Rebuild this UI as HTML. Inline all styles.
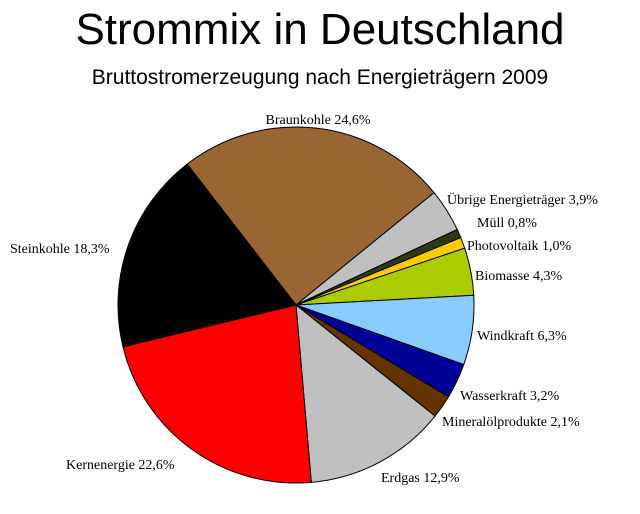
<!DOCTYPE html>
<html><head><meta charset="utf-8">
<style>
html,body{margin:0;padding:0;background:#fff;}
body{width:640px;height:514px;overflow:hidden;position:relative;}
svg{position:absolute;left:0;top:0;}
</style></head>
<body>
<svg width="640" height="514">
  <text x="320" y="44" text-anchor="middle" font-family="Liberation Sans, sans-serif" font-size="44">Strommix in Deutschland</text>
  <text x="320" y="84" text-anchor="middle" font-family="Liberation Sans, sans-serif" font-size="21">Bruttostromerzeugung nach Energieträgern 2009</text>
  <g id="slices"></g>
  <g id="labels" font-family="Liberation Serif, serif" font-size="14"></g>
</svg>
<script>
const categories = ["Braunkohle","Übrige Energieträger","Müll","Photovoltaik","Biomasse","Windkraft","Wasserkraft","Mineralölprodukte","Erdgas","Kernenergie","Steinkohle"];
const values = [24.6,3.9,0.8,1.0,4.3,6.3,3.2,2.1,12.9,22.6,18.3];
const valueLabels = ["24,6%","3,9%","0,8%","1,0%","4,3%","6,3%","3,2%","2,1%","12,9%","22,6%","18,3%"];
const colors = ["#996633","#c0c0c0","#2b3a14","#ffcc00","#aacc00","#88ccff","#000099","#663300","#c0c0c0","#ff0000","#000000"];
const labelPos = [[318,124,"middle"],[447,204,"start"],[477,227,"start"],[467,250,"start"],[475,280,"start"],[477,340,"start"],[460,400,"start"],[442,426,"start"],[381,482,"start"],[66,469,"start"],[10,253,"start"]];
const cx=296, cy=305, r=178, startDeg=-127.7;
const ns="http://www.w3.org/2000/svg";
const total=values.reduce((a,b)=>a+b,0);
function angle(v){return (startDeg + v/total*360)*Math.PI/180;}
let acc=0;
const gs=document.getElementById('slices'), gl=document.getElementById('labels');
values.forEach((v,i)=>{
  const a0=angle(acc), a1=angle(acc+v); acc+=v;
  const x0=cx+r*Math.cos(a0), y0=cy+r*Math.sin(a0), x1=cx+r*Math.cos(a1), y1=cy+r*Math.sin(a1);
  const large=(a1-a0)>Math.PI?1:0;
  const p=document.createElementNS(ns,'path');
  p.setAttribute('d',`M${cx},${cy} L${x0},${y0} A${r},${r} 0 ${large} 1 ${x1},${y1} Z`);
  p.setAttribute('fill',colors[i]);
  p.setAttribute('stroke','#000');
  p.setAttribute('stroke-width','1');
  
  
  gs.appendChild(p);
  const t=document.createElementNS(ns,'text');
  t.setAttribute('x',labelPos[i][0]);
  t.setAttribute('y',labelPos[i][1]);
  t.setAttribute('text-anchor',labelPos[i][2]);
  t.textContent=categories[i]+' '+valueLabels[i];
  
  
  gl.appendChild(t);
});
</script>
</body></html>
